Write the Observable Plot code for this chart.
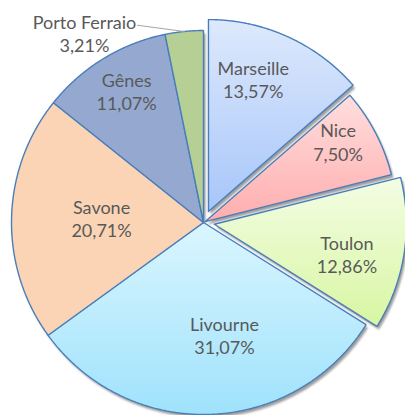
<!DOCTYPE html>
<html><head><meta charset="utf-8">
<script src="https://cdn.jsdelivr.net/npm/d3@7"></script>
<script src="https://cdn.jsdelivr.net/npm/@observablehq/plot@0.6"></script>
<style>body{margin:0;background:#fff}</style>
</head><body><div id="chart"></div>
<script>
// ---- data ----
const cities = ["Marseille", "Nice", "Toulon", "Livourne", "Savone", "Gênes", "Porto Ferraio"];
const shares = [13.57, 7.50, 12.86, 31.07, 20.71, 11.07, 3.21];
const shareLabels = ["13,57%", "7,50%", "12,86%", "31,07%", "20,71%", "11,07%", "3,21%"];

// ---- layout / style ----
const W = 405, H = 415, CX = 203, CY = 222, R = 192;
const explode = [12, 2, 11, 0, 0, 0, 0];
const gradTop = ["#dde9fc", "#ffdede", "#f3fde4", "#daf6ff", "#fad4b5", "#95a9d0", "#b6cf95"];
const gradBottom = ["#a8c6fa", "#ffadad", "#d8f6a2", "#9fe2fc", "#fad4b5", "#95a9d0", "#b6cf95"];
const labelAngle = [19.1, 59.0, 102.6, 169.5, 272.2, 329.6, 327.9];
const labelDist = [152, 157, 147, 115, 102, 152, 224];
const leaderFrom = {angle: 341.5, dist: 208};

const rad = Math.PI / 180;
const arcs = d3.pie().sort(null).value(d => d)(shares);
const pts = [];
arcs.forEach((a, i) => {
  const mid = (a.startAngle + a.endAngle) / 2;
  const ox = CX + explode[i] * Math.sin(mid), oy = CY - explode[i] * Math.cos(mid);
  pts.push({i, x: ox, y: oy});
  const n = Math.max(2, Math.ceil((a.endAngle - a.startAngle) / 0.005));
  for (let k = 0; k <= n; k++) {
    const t = a.startAngle + (a.endAngle - a.startAngle) * k / n;
    pts.push({i, x: ox + R * Math.sin(t), y: oy - R * Math.cos(t)});
  }
  pts.push({i, x: ox, y: oy});
});

const labels = cities.map((c, i) => ({
  text: c + "\n" + shareLabels[i],
  x: CX + labelDist[i] * Math.sin(labelAngle[i] * rad),
  y: CY - labelDist[i] * Math.cos(labelAngle[i] * rad)
}));

const pf = arcs[6], pfMid = (pf.startAngle + pf.endAngle) / 2;
const leader = [
  {x: CX + leaderFrom.dist * Math.sin(leaderFrom.angle * rad), y: CY - leaderFrom.dist * Math.cos(leaderFrom.angle * rad)},
  {x: CX + R * Math.sin(pfMid), y: CY - R * Math.cos(pfMid)}
];

const plot = Plot.plot({
  width: W, height: H, margin: 0,
  x: {domain: [0, W], range: [0, W], axis: null},
  y: {domain: [0, H], range: [0, H], axis: null},
  color: {type: "identity"},
  marks: [
    Plot.line(pts, {x: "x", y: "y", z: "i", fill: "#9c9c9c", stroke: "none", dx: 2, dy: 3, curve: "linear"}),
    Plot.line(pts, {x: "x", y: "y", z: "i", fill: d => `url(#grad${d.i})`, stroke: "#4a7ebb", strokeWidth: 1.4, strokeLinejoin: "miter", curve: "linear"}),
    Plot.line(leader, {x: "x", y: "y", stroke: "#a6a6a6", strokeWidth: 1.2}),
    Plot.text(labels, {x: "x", y: "y", text: "text", fill: "#595959", fontSize: 18, lineHeight: 1.28, fontFamily: "Lato"})
  ]
});

const svg = d3.select(plot);
const defs = svg.insert("defs", ":first-child");
gradTop.forEach((c, i) => {
  const g = defs.append("linearGradient").attr("id", "grad" + i)
    .attr("x1", 0).attr("y1", 0).attr("x2", 0).attr("y2", 1);
  g.append("stop").attr("offset", "0%").attr("stop-color", c);
  g.append("stop").attr("offset", "100%").attr("stop-color", gradBottom[i]);
});
const f = defs.append("filter").attr("id", "blur").attr("x", "-10%").attr("y", "-10%").attr("width", "120%").attr("height", "120%");
f.append("feGaussianBlur").attr("stdDeviation", 1.2);
svg.select('g[aria-label="line"]').attr("filter", "url(#blur)");
document.getElementById("chart").appendChild(plot);
</script>
</body></html>
